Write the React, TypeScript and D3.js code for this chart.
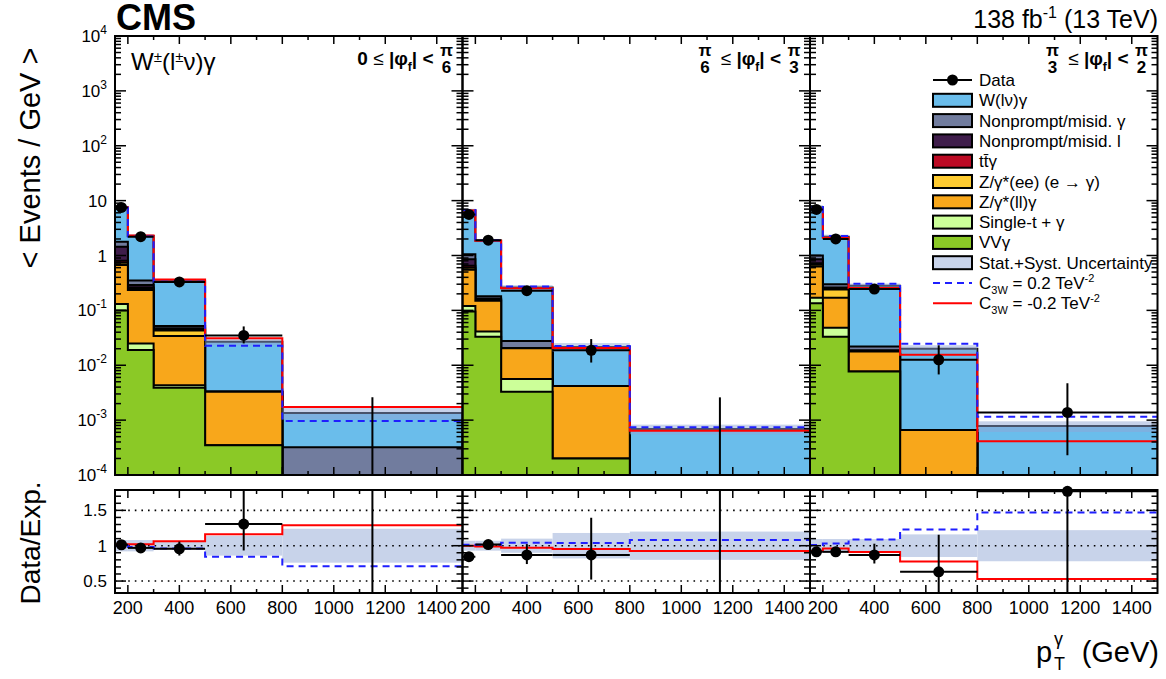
import * as d3 from "d3";

const FONT = "'Liberation Sans', Arial, Helvetica, sans-serif";

// pT bins (GeV), shared by the three |phi_f| regions
const binEdges = [150, 200, 300, 500, 800, 1500];
const binCenters = [175, 250, 400, 650, 1150];

// region labels
const phiLower = ["0", "π/6", "π/3"];
const phiUpper = ["π/6", "π/3", "π/2"];

// stacked expectations, <events/GeV>, one row per |phi_f| region
const vvGamma = [
  [0.1, 0.019, 0.0039, 3.5e-4, 0],
  [0.095, 0.033, 0.0033, 2e-4, 0],
  [0.135, 0.033, 0.0077, 0, 0],
];
const singleTop = [
  [0.03, 0.006, 0.0004, 0, 0],
  [0.025, 0.008, 0.0023, 0, 0],
  [0.035, 0.015, 0, 0, 0],
];
const zllGamma = [
  [0.54, 0.21, 0.0297, 0.00295, 0],
  [0.43, 0.109, 0.0148, 0.004, 0],
  [0.46, 0.122, 0.0101, 6.6e-4, 0],
];
const zeeMisid = [
  [0.07, 0.015, 0.009, 0, 0],
  [0.05, 0.005, 0, 0, 0],
  [0.05, 0.07, 0, 0, 0],
];
const ttGamma = [
  [0.06, 0.01, 0.002, 0, 0],
  [0.05, 0.005, 0, 0, 0],
  [0.04, 0.01, 0, 0, 0],
];
const nonpromptLep = [
  [0.65, 0.03, 0.002, 0, 0],
  [0.2, 0.005, 0, 0, 0],
  [0.13, 0.01, 0.001, 0, 0],
];
const nonpromptPho = [
  [0.33, 0.06, 0.005, 0, 3.2e-4],
  [0.2, 0.015, 0.0074, 0, 0],
  [0.15, 0.04, 0.0032, 0, 0],
];
const wGamma = [
  [5.62, 1.92, 0.293, 0.0235, 1.03e-3],
  [5.58, 1.69, 0.2342, 0.0173, 6.9e-4],
  [6.55, 1.89, 0.26, 0.01934, 7.8e-4],
];

// relative stat+syst uncertainty of the total
const relUnc = [
  [0.08, 0.08, 0.06, 0.14, 0.24],
  [0.07, 0.07, 0.1, 0.18, 0.2],
  [0.095, 0.095, 0.095, 0.16, 0.22],
];

// EFT predictions
const c3wPlus = [
  [7.4, 2.225, 0.331, 0.02265, 9.6e-4],
  [6.73, 1.898, 0.2725, 0.02236, 7.45e-4],
  [7.63, 2.256, 0.307, 0.0246, 1.147e-3],
];
const c3wMinus = [
  [7.55, 2.315, 0.367, 0.0311, 1.74e-3],
  [6.63, 1.851, 0.254, 0.02053, 6.38e-4],
  [6.98, 2.1, 0.257, 0.0155, 4.13e-4],
];

// data
const dataYield = [
  [7.5, 2.2, 0.33, 0.035, 0],
  [5.6, 1.9, 0.228, 0.0187, 0],
  [6.9, 2.0, 0.245, 0.0126, 0.00138],
];
const dataErrUp = [
  [0.2, 0.1, 0.035, 0.016, 0.0026],
  [0.2, 0.1, 0.04, 0.0113, 0.0026],
  [0.2, 0.1, 0.045, 0.0105, 0.0033],
];
const dataErrDown = [
  [0.2, 0.1, 0.033, 0.01, 0],
  [0.2, 0.1, 0.034, 0.0075, 0],
  [0.2, 0.1, 0.034, 0.0058, 0.00115],
];

const stack = [
  { vals: vvGamma, color: "#8bc926" },
  { vals: singleTop, color: "#ccff99" },
  { vals: zllGamma, color: "#f8a71b" },
  { vals: zeeMisid, color: "#fecb31" },
  { vals: ttGamma, color: "#bc0a24" },
  { vals: nonpromptLep, color: "#3f1d4b" },
  { vals: nonpromptPho, color: "#717c9e" },
  { vals: wGamma, color: "#6abdeb" },
];

const legendBoxes = [
  { label: "W(lν)γ", color: "#6abdeb" },
  { label: "Nonprompt/misid. γ", color: "#717c9e" },
  { label: "Nonprompt/misid. l", color: "#3f1d4b" },
  { label: "tt\u0304γ", color: "#bc0a24" },
  { label: "Z/γ*(ee) (e → γ)", color: "#fecb31" },
  { label: "Z/γ*(ll)γ", color: "#f8a71b" },
  { label: "Single-t + γ", color: "#ccff99" },
  { label: "VVγ", color: "#8bc926" },
  { label: "Stat.+Syst. Uncertainty", color: "#c8d3ea" },
];

const W = 1166;
const H = 679;
const left = 115;
const right = 1157.5;
const pw = (right - left) / 3;
const top = 36;
const bottom = 475;
const rTop = 490;
const rBottom = 593;

const y = d3.scaleLog().domain([1e-4, 1e4]).range([bottom, top]);
const yr = d3.scaleLinear().domain([0.331, 1.788]).range([rBottom, rTop]);
const yc = (v: number) => (v <= 1e-5 ? bottom + 10 : y(v));

const logTicks: { v: number; major: boolean }[] = [];
for (let k = -4; k <= 4; k++)
  for (let m = 1; m <= 9; m++) {
    const v = m * Math.pow(10, k);
    if (v <= 1.0001e4) logTicks.push({ v, major: m === 1 });
  }
const ratioTicks = d3.range(4, 18).map((i) => ({ v: i / 10, major: i % 5 === 0 }));
const xTicks = d3.range(200, 1500, 100).map((v) => ({ v, major: v % 200 === 0 }));

function Frac({ cx, s }: { cx: number; s: string }) {
  const [n, d] = s.split("/");
  return (
    <g fontWeight="bold" fontSize={17} textAnchor="middle">
      <text x={cx} y={56}>{n}</text>
      <text x={cx} y={73}>{d}</text>
    </g>
  );
}

export default function App() {
  const panels = [0, 1, 2];
  const xs = panels.map((i) =>
    d3.scaleLinear().domain([150, 1500]).range([left + i * pw, left + (i + 1) * pw])
  );

  const totals = panels.map((p) =>
    binCenters.map((_, b) => d3.sum(stack, (s) => s.vals[p][b]))
  );

  const stepArea = (x: d3.ScaleLinear<number, number>, vals: number[]) =>
    d3
      .area<{ e: number; v: number }>()
      .x((d) => x(d.e))
      .y0(bottom + 10)
      .y1((d) => yc(d.v))
      .curve(d3.curveStepAfter)(
      binEdges.map((e, i) => ({ e, v: vals[Math.min(i, vals.length - 1)] }))
    ) as string;

  const stepLine = (
    x: d3.ScaleLinear<number, number>,
    vals: number[],
    yf: (v: number) => number
  ) =>
    d3
      .line<{ e: number; v: number }>()
      .x((d) => x(d.e))
      .y((d) => yf(d.v))
      .curve(d3.curveStepAfter)(
      binEdges.map((e, i) => ({ e, v: vals[Math.min(i, vals.length - 1)] }))
    ) as string;

  return (
    <svg
      width={W}
      height={H}
      style={{ position: "absolute", left: 0, top: 0, background: "#fff" }}
      fontFamily={FONT}
    >
      <defs>
        {panels.map((p) => (
          <g key={p}>
            <clipPath id={`clipTop${p}`}>
              <rect x={xs[p](150)} y={top} width={pw} height={bottom - top} />
            </clipPath>
            <clipPath id={`clipRat${p}`}>
              <rect x={xs[p](150)} y={rTop} width={pw} height={rBottom - rTop} />
            </clipPath>
          </g>
        ))}
      </defs>

      {panels.map((p) => {
        const x = xs[p];
        const cum: number[][] = [];
        stack.forEach((s, k) =>
          cum.push(s.vals[p].map((v, b) => v + (k > 0 ? cum[k - 1][b] : 0)))
        );
        const tot = totals[p];
        return (
          <g key={p}>
            {/* main panel */}
            <g clipPath={`url(#clipTop${p})`}>
              {stack
                .map((s, k) => (
                  <path
                    key={k}
                    d={stepArea(x, cum[k])}
                    fill={s.color}
                    stroke="#000"
                    strokeWidth={2}
                  />
                ))
                .reverse()}
              {tot.map((t, b) => (
                <rect
                  key={b}
                  x={x(binEdges[b])}
                  width={x(binEdges[b + 1]) - x(binEdges[b])}
                  y={y(t * (1 + relUnc[p][b]))}
                  height={y(t * (1 - relUnc[p][b])) - y(t * (1 + relUnc[p][b]))}
                  fill="#8fa5d5"
                  fillOpacity={0.5}
                />
              ))}
              <path d={stepLine(x, c3wMinus[p], yc)} fill="none" stroke="#ff0000" strokeWidth={2} />
              <path
                d={stepLine(x, c3wPlus[p], yc)}
                fill="none"
                stroke="#1f1fff"
                strokeWidth={2}
                strokeDasharray="7 5"
              />
              {dataYield[p].map((d, b) => {
                const cx = x(binCenters[b]);
                if (d <= 0)
                  return (
                    <line key={b} x1={cx} x2={cx} y1={bottom} y2={y(dataErrUp[p][b])} stroke="#000" strokeWidth={2} />
                  );
                return (
                  <g key={b} stroke="#000" strokeWidth={2}>
                    <line x1={cx} x2={cx} y1={y(d - dataErrDown[p][b])} y2={y(d + dataErrUp[p][b])} />
                    <line x1={x(binEdges[b])} x2={x(binEdges[b + 1])} y1={y(d)} y2={y(d)} />
                    <circle cx={cx} cy={y(d)} r={5.5} fill="#000" stroke="none" />
                  </g>
                );
              })}
            </g>

            {/* ratio panel */}
            <g clipPath={`url(#clipRat${p})`}>
              {tot.map((t, b) => (
                <rect
                  key={b}
                  x={x(binEdges[b])}
                  width={x(binEdges[b + 1]) - x(binEdges[b])}
                  y={yr(1 + relUnc[p][b])}
                  height={yr(1 - relUnc[p][b]) - yr(1 + relUnc[p][b])}
                  fill="#c8d3ea"
                />
              ))}
              {[0.5, 1, 1.5].map((v) => (
                <line
                  key={v}
                  x1={x(150)}
                  x2={x(1500)}
                  y1={yr(v)}
                  y2={yr(v)}
                  stroke="#000"
                  strokeWidth={1.6}
                  strokeDasharray="1.6 5"
                />
              ))}
              <path
                d={stepLine(x, c3wMinus[p].map((v, b) => v / tot[b]), yr)}
                fill="none"
                stroke="#ff0000"
                strokeWidth={2}
              />
              <path
                d={stepLine(x, c3wPlus[p].map((v, b) => v / tot[b]), yr)}
                fill="none"
                stroke="#1f1fff"
                strokeWidth={2}
                strokeDasharray="7 5"
              />
              {dataYield[p].map((d, b) => {
                const cx = x(binCenters[b]);
                const t = tot[b];
                if (d <= 0)
                  return (
                    <line key={b} x1={cx} x2={cx} y1={rBottom} y2={yr(dataErrUp[p][b] / t)} stroke="#000" strokeWidth={2} />
                  );
                return (
                  <g key={b} stroke="#000" strokeWidth={2}>
                    <line x1={cx} x2={cx} y1={yr((d - dataErrDown[p][b]) / t)} y2={yr((d + dataErrUp[p][b]) / t)} />
                    <line x1={x(binEdges[b])} x2={x(binEdges[b + 1])} y1={yr(d / t)} y2={yr(d / t)} />
                  </g>
                );
              })}
            </g>
            {dataYield[p].map((d, b) =>
              d > 0 ? (
                <circle key={b} cx={x(binCenters[b])} cy={yr(d / totals[p][b])} r={5.5} fill="#000" />
              ) : null
            )}

            {/* ticks */}
            <g stroke="#000" strokeWidth={1.5}>
              {logTicks.map((t, i) => {
                const len = t.major ? 11 : 6;
                return (
                  <g key={i}>
                    <line x1={x(150)} x2={x(150) + len} y1={y(t.v)} y2={y(t.v)} />
                    <line x1={x(1500)} x2={x(1500) - len} y1={y(t.v)} y2={y(t.v)} />
                  </g>
                );
              })}
              {ratioTicks.map((t, i) => {
                const len = t.major ? 11 : 6;
                return (
                  <g key={i}>
                    <line x1={x(150)} x2={x(150) + len} y1={yr(t.v)} y2={yr(t.v)} />
                    <line x1={x(1500)} x2={x(1500) - len} y1={yr(t.v)} y2={yr(t.v)} />
                  </g>
                );
              })}
              {xTicks.map((t, i) => {
                const len = t.major ? 8 : 4;
                const xx = x(t.v);
                return (
                  <g key={i}>
                    <line x1={xx} x2={xx} y1={top} y2={top + len} />
                    <line x1={xx} x2={xx} y1={bottom} y2={bottom - len} />
                    <line x1={xx} x2={xx} y1={rTop} y2={rTop + len} />
                    <line x1={xx} x2={xx} y1={rBottom} y2={rBottom - len} />
                  </g>
                );
              })}
            </g>

            {/* frames */}
            <rect x={x(150)} y={top} width={pw} height={bottom - top} fill="none" stroke="#000" strokeWidth={2} />
            <rect x={x(150)} y={rTop} width={pw} height={rBottom - rTop} fill="none" stroke="#000" strokeWidth={2} />

            {/* x tick labels */}
            {xTicks
              .filter((t) => t.major)
              .map((t) => (
                <text key={t.v} x={x(t.v)} y={614} fontSize={18} textAnchor="middle">
                  {t.v}
                </text>
              ))}

            {/* region label */}
            <Frac cx={x(1500) - 16} s={phiUpper[p]} />
            <text x={x(1500) - 29} y={65} fontSize={19} fontWeight="bold" textAnchor="end">
              {phiLower[p] === "0" ? "0 " : ""}
              <tspan fontWeight="normal">≤</tspan> |φ
              <tspan fontSize={12} dy={6}>f</tspan>
              <tspan dy={-6}>| &lt;</tspan>
            </text>
            {phiLower[p] !== "0" && <Frac cx={x(1500) - 105} s={phiLower[p]} />}
          </g>
        );
      })}

      {/* y tick labels */}
      {d3.range(-4, 5).map((k) => (
        <text key={k} x={107} y={y(Math.pow(10, k)) + 6} fontSize={17} textAnchor="end">
          {k === 0 ? "1" : "10"}
          {k !== 0 && k !== 1 && (
            <tspan fontSize={12} dy={-8}>
              {k}
            </tspan>
          )}
        </text>
      ))}
      {[0.5, 1, 1.5].map((v) => (
        <text key={v} x={107} y={yr(v) + 6} fontSize={17} textAnchor="end">
          {v}
        </text>
      ))}

      {/* titles */}
      <text x={116} y={30} fontSize={36} fontWeight="bold">
        CMS
      </text>
      <text x={1158} y={28} fontSize={25} textAnchor="end">
        138 fb<tspan fontSize={16} dy={-10}>-1</tspan>
        <tspan dy={10}> (13 TeV)</tspan>
      </text>
      <text x={131} y={70} fontSize={24}>
        W<tspan fontSize={15} dy={-8}>±</tspan>
        <tspan dy={8}>(l</tspan>
        <tspan fontSize={15} dy={-8}>±</tspan>
        <tspan dy={8}>ν)γ</tspan>
      </text>
      <text transform="translate(40,158) rotate(-90)" fontSize={29} textAnchor="middle">
        {"< Events / GeV >"}
      </text>
      <text transform="translate(40,543) rotate(-90)" fontSize={28} textAnchor="middle">
        Data/Exp.
      </text>
      <text x={1036} y={662} fontSize={29}>
        p
      </text>
      <text x={1054} y={670} fontSize={18}>
        T
      </text>
      <text x={1054} y={645} fontSize={18}>
        γ
      </text>
      <text x={1159} y={662} fontSize={29} textAnchor="end">
        (GeV)
      </text>

      {/* legend */}
      <g fontSize={17}>
        <line x1={933} x2={972} y1={80} y2={80} stroke="#000" strokeWidth={2} />
        <circle cx={952.5} cy={80} r={5.5} fill="#000" />
        <text x={979} y={86}>Data</text>
        {legendBoxes.map((e, i) => {
          const cy = 80 + 20.3 * (i + 1);
          return (
            <g key={e.label}>
              <rect x={933} y={cy - 6.5} width={39} height={13} fill={e.color} stroke="#000" strokeWidth={2} />
              <text x={979} y={cy + 6}>{e.label}</text>
            </g>
          );
        })}
        {[
          { v: "0.2", color: "#1f1fff", dash: "7 5" },
          { v: "-0.2", color: "#ff0000", dash: undefined },
        ].map((e, i) => {
          const cy = 80 + 20.3 * (10 + i);
          return (
            <g key={e.v}>
              <line x1={933} x2={972} y1={cy} y2={cy} stroke={e.color} strokeWidth={2} strokeDasharray={e.dash} />
              <text x={979} y={cy + 6}>
                C<tspan fontSize={11} dy={5}>3W</tspan>
                <tspan dy={-5}> = {e.v} TeV</tspan>
                <tspan fontSize={11} dy={-7}>-2</tspan>
              </text>
            </g>
          );
        })}
      </g>
    </svg>
  );
}
